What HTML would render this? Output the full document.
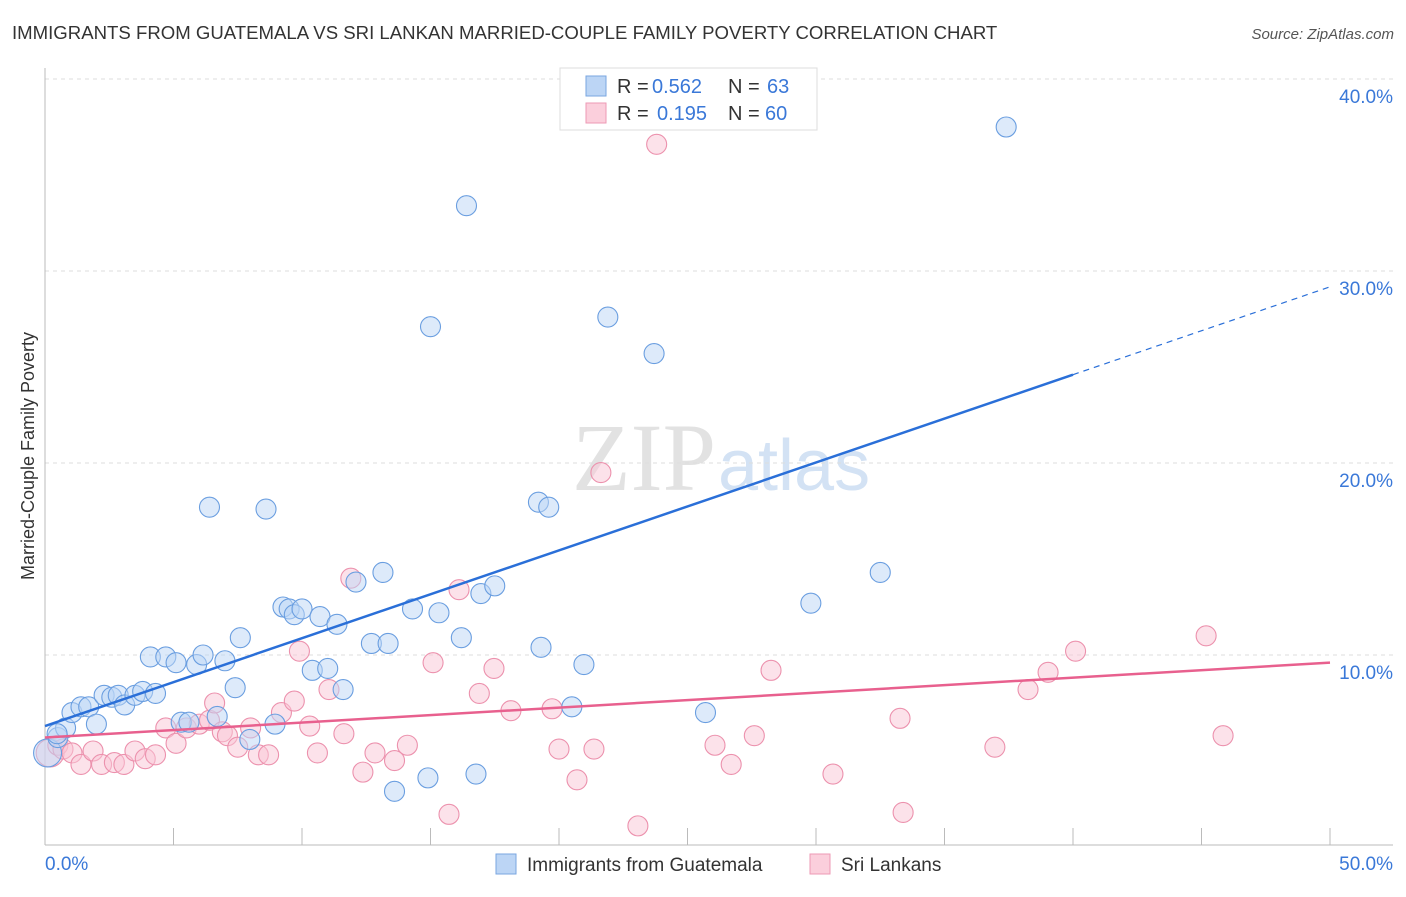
<!DOCTYPE html>
<html><head><meta charset="utf-8"><style>
body{margin:0;background:#fff;font-family:"Liberation Sans",sans-serif}
</style></head><body>
<svg id="c" width="1406" height="892" xmlns="http://www.w3.org/2000/svg">
<text x="12" y="39" font-size="18.6" fill="#333">IMMIGRANTS FROM GUATEMALA VS SRI LANKAN MARRIED-COUPLE FAMILY POVERTY CORRELATION CHART</text>
<text x="1394" y="39" font-size="15" fill="#555" font-style="italic" text-anchor="end">Source: ZipAtlas.com</text>
<text x="716" y="490" font-size="96" fill="#e2e2e2" text-anchor="end" font-family="Liberation Serif">ZIP</text>
<text x="718" y="490" font-size="72" fill="#d3e2f4">atlas</text>
<text transform="translate(34,456) rotate(-90)" font-size="18" fill="#333" text-anchor="middle">Married-Couple Family Poverty</text>
<g id="grid"></g><g id="marks"></g>
<g>
<rect x="560" y="68" width="257" height="62" fill="#fff" stroke="#ddd"/>
<rect x="586" y="76" width="20" height="20" fill="#bcd5f5" stroke="#7aa6e0"/>
<rect x="586" y="103" width="20" height="20" fill="#fbcfdc" stroke="#ee9ab5"/>
<text x="617" y="93" font-size="20" fill="#333">R =</text>
<text x="652" y="93" font-size="20" fill="#3a78d8">0.562</text>
<text x="728" y="93" font-size="20" fill="#333">N =</text>
<text x="767" y="93" font-size="20" fill="#3a78d8">63</text>
<text x="617" y="120" font-size="20" fill="#333">R =</text>
<text x="657" y="120" font-size="20" fill="#3a78d8">0.195</text>
<text x="728" y="120" font-size="20" fill="#333">N =</text>
<text x="765" y="120" font-size="20" fill="#3a78d8">60</text>
</g>
<g>
<rect x="496" y="854" width="20" height="20" fill="#bcd5f5" stroke="#7aa6e0"/>
<text x="527" y="871" font-size="19" fill="#333">Immigrants from Guatemala</text>
<rect x="810" y="854" width="20" height="20" fill="#fbcfdc" stroke="#ee9ab5"/>
<text x="841" y="871" font-size="19" fill="#333">Sri Lankans</text>
</g>
</svg>
<script>
const blueX=[0.1,0.5,0.8,1.05,1.4,1.7,2.0,2.3,2.6,2.85,3.1,3.5,3.8,4.3,4.1,4.7,5.1,5.3,5.6,5.9,6.15,6.7,7.0,7.4,7.6,6.4,8.6,7.97,8.95,9.26,9.5,9.7,10.0,10.4,10.7,11.0,11.36,11.6,12.1,12.7,13.15,13.35,13.6,14.3,14.9,15.0,15.33,16.2,16.4,16.77,16.96,17.5,19.2,19.3,19.6,20.5,20.97,21.9,23.7,25.7,29.8,32.5,37.4,0.47];
const blueY=[4.9,5.7,6.2,7.0,7.3,7.3,6.4,7.9,7.8,7.9,7.4,7.9,8.1,8.0,9.9,9.9,9.6,6.5,6.5,9.5,10.0,6.8,9.7,8.3,10.9,17.7,17.6,5.6,6.4,12.5,12.4,12.1,12.4,9.2,12.0,9.3,11.6,8.2,13.8,10.6,14.3,10.6,2.9,12.4,3.6,27.1,12.2,10.9,33.4,3.8,13.2,13.6,17.96,10.4,17.7,7.3,9.5,27.6,25.7,7.0,12.7,14.3,37.5,5.9];
const pinkX=[0.2,0.5,0.7,1.05,1.4,1.87,2.2,2.7,3.07,3.5,3.9,4.3,4.7,5.1,5.5,6.0,6.4,6.6,6.9,7.1,7.5,8.0,8.3,8.7,9.2,9.7,9.9,10.3,10.6,11.05,11.63,11.9,12.37,12.84,13.6,14.1,15.1,15.72,16.11,16.9,17.47,18.13,19.73,20.0,20.7,21.36,21.63,23.07,23.8,26.07,26.7,27.6,28.25,30.66,33.27,33.39,36.96,38.25,39.03,40.1,45.18,45.84];
const pinkY=[4.9,5.3,5.1,4.9,4.3,5.0,4.3,4.4,4.3,5.0,4.6,4.8,6.2,5.4,6.2,6.4,6.6,7.5,6.0,5.8,5.2,6.2,4.8,4.8,7.0,7.6,10.2,6.3,4.9,8.2,5.9,14.0,3.9,4.9,4.5,5.3,9.6,1.7,13.4,8.0,9.3,7.1,7.2,5.1,3.5,5.1,19.5,1.1,36.6,5.3,4.3,5.8,9.2,3.8,6.7,1.8,5.2,8.2,9.1,10.2,11.0,5.8];
const blueTrend=[6.3,24.6,40];   // intercept, value at x=40, solid end x
const pinkTrend=[5.7,9.6];        // value at x=0, value at x=50
const yTicks=[10,20,30,40];
const xTicks=[0,5,10,15,20,25,30,35,40,45,50];
const NS="http://www.w3.org/2000/svg";
const X=v=>45+v*25.7, Y=v=>847-v*19.2;
function mk(t,a,p){const e=document.createElementNS(NS,t);for(const k in a)e.setAttribute(k,a[k]);p.appendChild(e);return e;}
const g=document.getElementById('grid'),m=document.getElementById('marks');
yTicks.forEach(v=>{
 const l=mk('line',{x1:45,x2:1393,y1:Y(v),y2:Y(v),stroke:'#ddd','stroke-dasharray':'4,4'},g);
 
 
 const t=mk('text',{x:1393,y:Y(v)+24,'font-size':19,fill:'#3a78d8','text-anchor':'end'},g);t.textContent=v.toFixed(1)+'%';
 
 
});
const ax=mk('line',{x1:45,x2:45,y1:68,y2:845,stroke:'#bbb'},g);


const bx=mk('line',{x1:45,x2:1393,y1:845,y2:845,stroke:'#bbb'},g);


xTicks.forEach(v=>{
 const l=mk('line',{x1:X(v),x2:X(v),y1:828,y2:845,stroke:'#bbb'},g);
 
 
});
[[0,'start'],[50,'end']].forEach(([v,a])=>{
 const t=mk('text',{x:v==0?45:1393,y:870,'font-size':19,fill:'#3a78d8','text-anchor':a},g);t.textContent=v.toFixed(1)+'%';
 
 
});
function pts(xs,ys,fill,stroke,name){xs.forEach((x,i)=>{
 const r=(i==0)?14:10;
 const c=mk('circle',{cx:X(x),cy:Y(ys[i]),r:r,fill:fill,'fill-opacity':0.5,stroke:stroke,'stroke-width':1.1},m);
 
 
});}
pts(pinkX,pinkY,'#f9c6d5','#ec91ad','srilankan');
pts(blueX,blueY,'#bcd5f5','#6a9ee0','guatemala');
const s=(blueTrend[1]-blueTrend[0])/blueTrend[2];
const bl=mk('line',{x1:X(0),y1:Y(blueTrend[0]),x2:X(blueTrend[2]),y2:Y(blueTrend[1]),stroke:'#2a6fd8','stroke-width':2.5},m);


const bd=mk('line',{x1:X(blueTrend[2]),y1:Y(blueTrend[1]),x2:X(50),y2:Y(blueTrend[0]+s*50),stroke:'#2a6fd8','stroke-width':1.2,'stroke-dasharray':'6,5'},m);


const pl=mk('line',{x1:X(0),y1:Y(pinkTrend[0]),x2:X(50),y2:Y(pinkTrend[1]),stroke:'#e8608e','stroke-width':2.5},m);


</script>
</body></html>
